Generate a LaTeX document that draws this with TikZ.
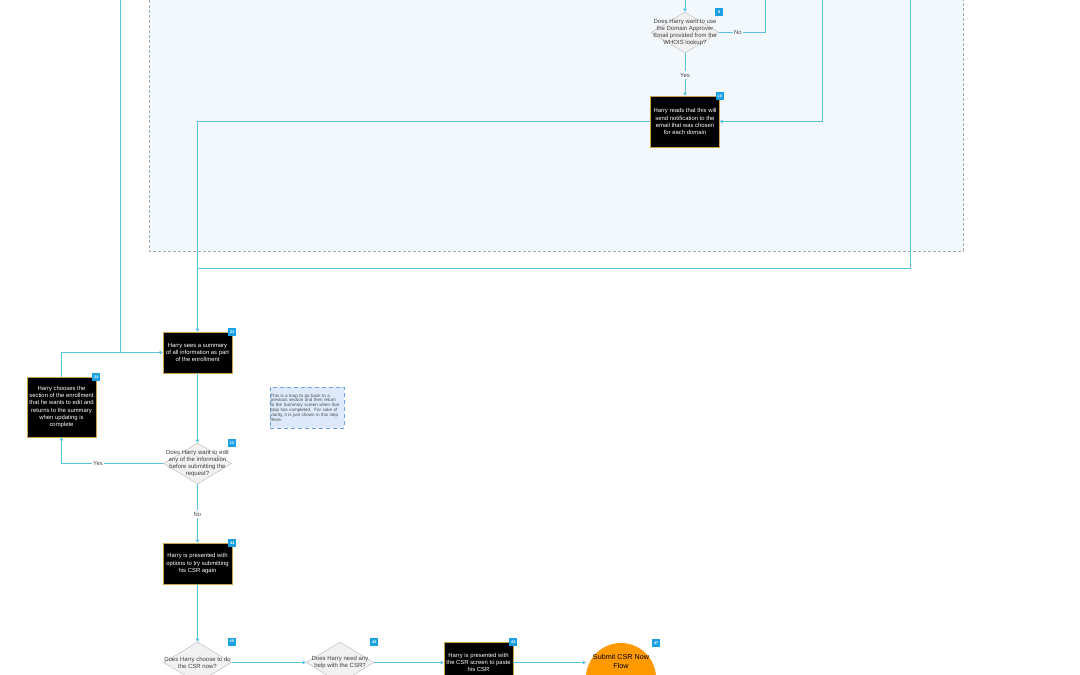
\documentclass[tikz,border=0pt]{standalone}
\usepackage{fontspec}
\setmainfont{Liberation Sans}
\usetikzlibrary{shapes.geometric,arrows.meta,calc}
\definecolor{conncol}{HTML}{5BC2E2}
\definecolor{bgbox}{HTML}{F3F8FD}
\definecolor{boxline}{HTML}{AAAAAA}
\definecolor{goldline}{HTML}{C9A24A}
\definecolor{badgec}{HTML}{1BA1E2}
\definecolor{decfill}{HTML}{F1F1F1}
\definecolor{decline}{HTML}{C8C8C8}
\definecolor{notefill}{HTML}{DDEAFB}
\definecolor{noteline}{HTML}{6C9FE4}
\definecolor{orangec}{HTML}{FF9900}
\begin{document}
\begin{tikzpicture}[x=1pt,y=-1pt,
 proc/.style={draw=goldline,fill=black,line width=0.6pt,minimum width=69pt,inner sep=0pt,
   text=white,align=center,font=\fontsize{5.9}{7.2}\selectfont},
 dec/.style={diamond,draw=decline,fill=decfill,minimum width=68pt,minimum height=41pt,inner sep=0pt,line width=0.6pt},
 dtext/.style={text=black!75,align=center,font=\fontsize{6}{6.9}\selectfont,inner sep=0pt},
 badge/.style={fill=badgec,text=white,minimum size=8pt,inner sep=0pt,font=\fontsize{3.8}{4}\selectfont\bfseries},
 connline/.style={draw=conncol,line width=0.8pt},
 arr/.style={connline,-{Triangle[length=3pt,width=3.6pt]}},
 lab/.style={fill=white,text=black!70,font=\fontsize{5.9}{6}\selectfont,inner sep=1.5pt},
 note/.style={draw=noteline,fill=notefill,dash pattern=on 4pt off 3pt,line width=0.5pt,
   minimum width=74pt,minimum height=41pt,text width=73pt,inner sep=0.5pt,align=left,
   text=black!70,font=\fontsize{4.5}{4.8}\selectfont},
]
\useasboundingbox (0,0) rectangle (1080,675);
\clip (0,0) rectangle (1080,675);
\fill[white] (0,0) rectangle (1080,675);

% group box
\fill[bgbox] (149,-20) rectangle (963,251);
\draw[boxline,dash pattern=on 3pt off 2pt,line width=0.6pt] (149,-20) rectangle (963,251);

% nodes
\node[dec] (d9) at (685,32.5) {};
\node[dtext] (d9t) at (d9) {Does Harry want to use\\the Domain Approver\\Email provided from the\\WHOIS lookup?};
\node[proc,minimum height=51pt] (n10) at (685,121.5) {Harry reads that this will\\send notification to the\\email that was chosen\\for each domain};
\node[proc,minimum height=41pt] (n22) at (197.5,352.5) {Harry sees a summary\\of all information as part\\of the enrollment};
\node[proc,minimum height=60pt] (n24) at (61.5,407) {Harry chooses the\\section of the enrollment\\that he wants to edit and\\returns to the summary\\when updating is\\complete};
\node[note] (nt) at (307,407.5) {This is a loop to go back to a\\previous section and then return\\to the Summary screen when that\\loop has completed.\ \ For sake of\\clarity, it is just shown in this step\\there.};
\node[dec] (d23) at (197.5,463.5) {};
\node[dtext] (d23t) at (d23) {Does Harry want to edit\\any of the information\\before submitting the\\request?};
\node[proc,minimum height=41pt] (n44) at (197.5,563.5) {Harry is presented with\\options to try submitting\\his CSR again};
\node[dec] (d45) at (197.5,662.5) {};
\node[dtext] (d45t) at (d45) {Does Harry choose to do\\the CSR now?};
\node[dec] (d46) at (340,662.5) {};
\node[dtext] (d46t) at (d46) {Does Harry need any\\help with the CSR?};
\node[proc,minimum height=41pt] (n43) at (478.5,662.5) {Harry is presented with\\the CSR screen to paste\\his CSR};
\node[circle,fill=orangec,minimum size=70pt,inner sep=0pt] (c47) at (621,678) {};
\node[align=center,inner sep=0pt,font=\fontsize{7.2}{8.6}\selectfont] (c47t) at (621,661.5) {Submit CSR Now\\Flow};

% badges
\node[badge] (b9) at (d9.east |- d9.north) {9};
\node[badge] (b10) at (n10.north east) {10};
\node[badge] (b22) at (n22.north east) {22};
\node[badge] (b24) at (n24.north east) {24};
\node[badge] (b23) at (d23.east |- d23.north) {23};
\node[badge] (b44) at (n44.north east) {44};
\node[badge] (b45) at (d45.east |- d45.north) {45};
\node[badge] (b46) at (d46.east |- d46.north) {46};
\node[badge] (b43) at (n43.north east) {43};
\node[badge] (b47) at (c47.east |- c47.north) {47};

% free ends and joints
\coordinate (t9) at (685,-5);
\coordinate (t765) at (765,-5);
\coordinate (t822) at (822,-5);
\coordinate (t910) at (910,-5);
\coordinate (t120) at (120,-5);
\coordinate (j1) at (197.5,268);
\coordinate (j2) at (120,352.5);

% connectors
\draw[arr] (t9) -- (d9.north);
\draw[connline] (d9.east) -| (t765);
\node[lab,fill=bgbox] (lno9) at (738,32.5) {No};
\draw[arr] (d9.south) -- (n10.north);
\node[lab,fill=bgbox] (lyes9) at (685,75) {Yes};
\draw[arr] (t822) |- (n10.east);
\draw[arr] (n10.west) -| (n22.north);
\draw[connline] (t910) |- (j1);
\draw[connline] (t120) -- (j2);
\draw[arr] (n24.north) |- (n22.west);
\draw[arr] (n22.south) -- (d23.north);
\draw[arr] (d23.west) -| (n24.south);
\node[lab] (lyes23) at (98,463.5) {Yes};
\draw[arr] (d23.south) -- (n44.north);
\node[lab] (lno23) at (197.5,514) {No};
\draw[arr] (n44.south) -- (d45.north);
\draw[arr] (d45.east) -- (d46.west);
\draw[arr] (d46.east) -- (n43.west);
\draw[arr] (n43.east) -- (n43.east -| c47.west);
\end{tikzpicture}
\end{document}
